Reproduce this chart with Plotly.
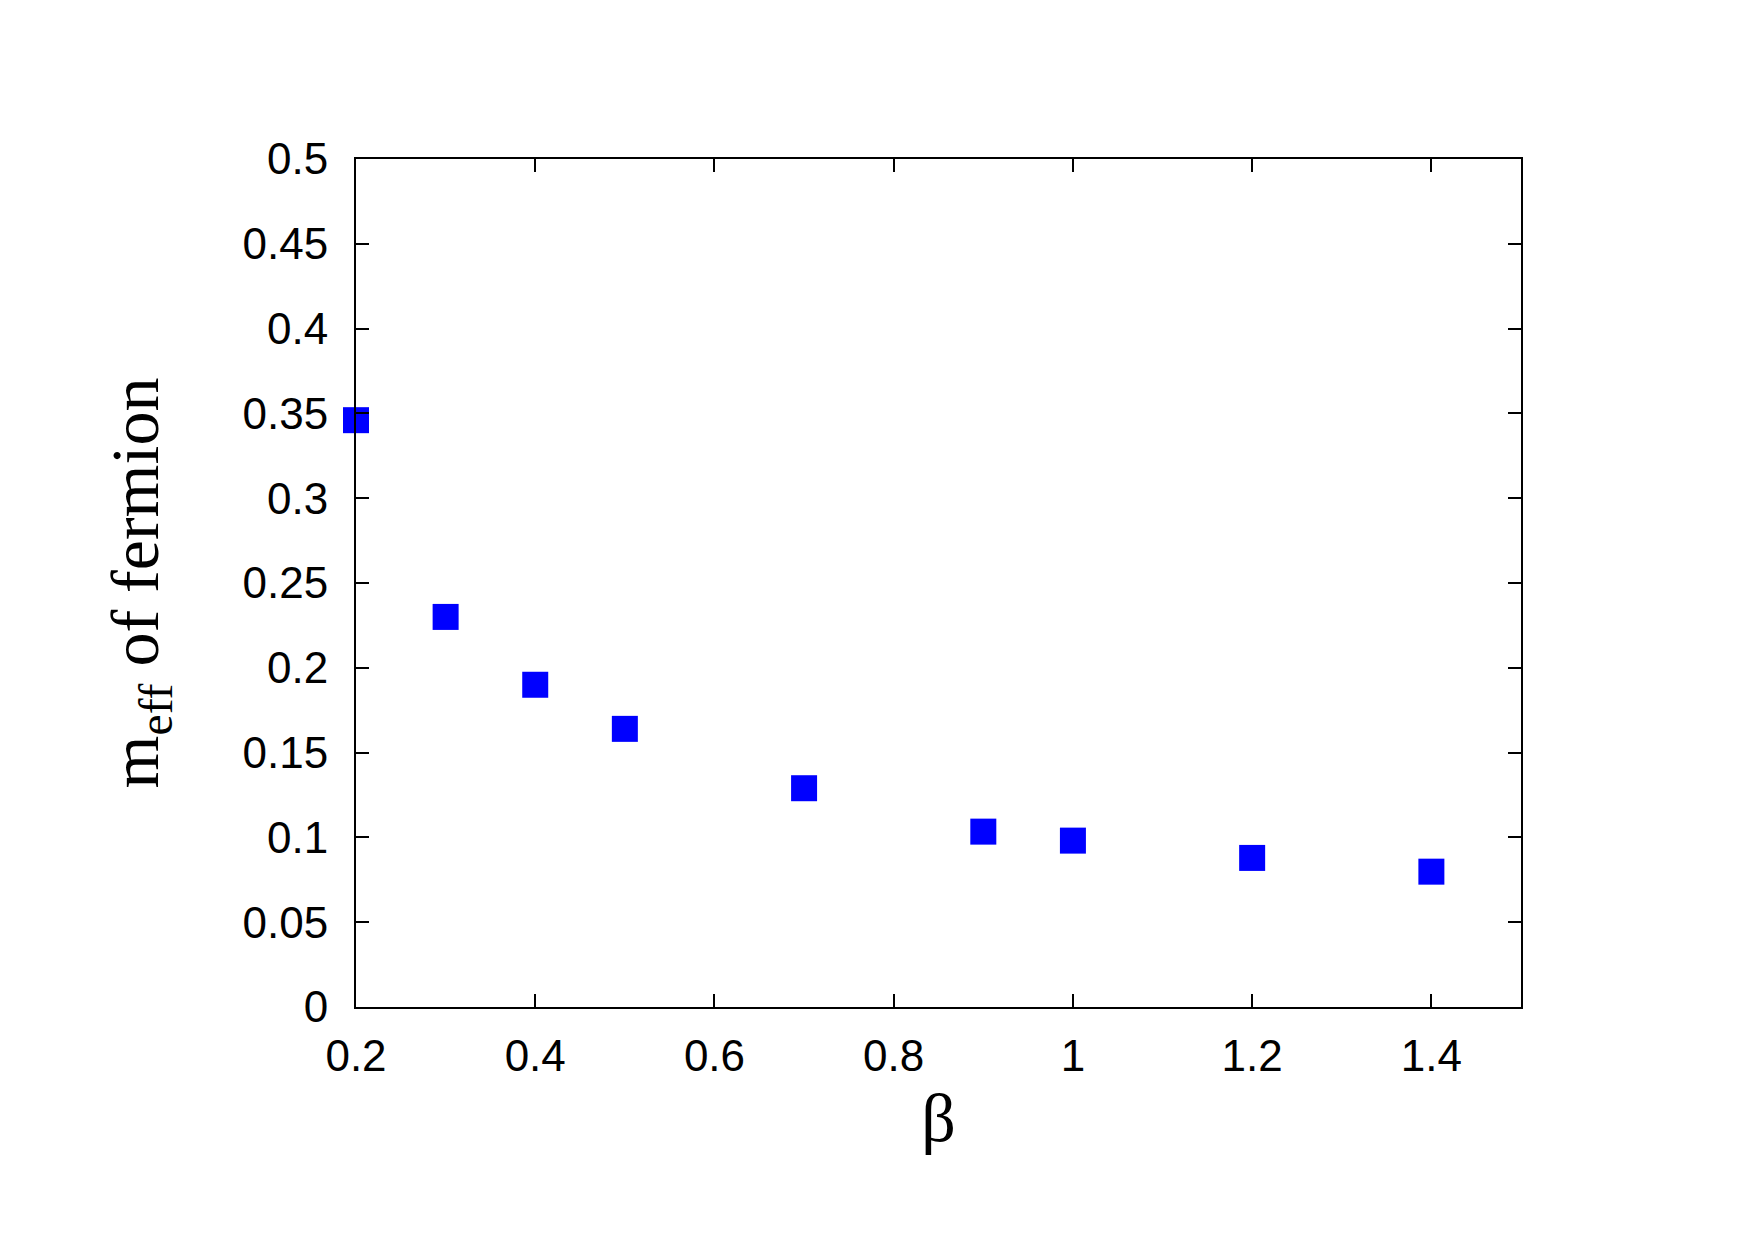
import plotly.graph_objects as go

beta = [0.2, 0.3, 0.4, 0.5, 0.7, 0.9, 1.0, 1.2, 1.4]
m_eff = [0.346, 0.230, 0.190, 0.164, 0.129, 0.1034, 0.0981, 0.0879, 0.0798]

x_ticks = [0.2, 0.4, 0.6, 0.8, 1.0, 1.2, 1.4]
x_tick_labels = ["0.2", "0.4", "0.6", "0.8", "1", "1.2", "1.4"]
y_ticks = [0, 0.05, 0.1, 0.15, 0.2, 0.25, 0.3, 0.35, 0.4, 0.45, 0.5]
y_tick_labels = ["0", "0.05", "0.1", "0.15", "0.2", "0.25", "0.3", "0.35", "0.4", "0.45", "0.5"]

fig = go.Figure()
fig.add_trace(go.Scatter(
    x=beta, y=m_eff, mode="markers",
    marker=dict(symbol="square", size=26, color="#0000ff", line=dict(width=0)),
    cliponaxis=False, showlegend=False,
))

axis_common = dict(
    showline=True, linecolor="black", linewidth=2, mirror="ticks",
    ticks="inside", ticklen=13, tickwidth=2, tickcolor="black",
    showgrid=False, zeroline=False,
    tickfont=dict(family="Liberation Sans, Arial, sans-serif", size=44, color="black"),
)

fig.update_layout(
    width=1755, height=1240,
    margin=dict(l=356, r=234, t=159, b=233),
    paper_bgcolor="white", plot_bgcolor="white",
    xaxis=dict(
        range=[0.2, 1.5], tickvals=x_ticks, ticktext=x_tick_labels,
        ticklabelstandoff=9,
        title=dict(text="β", font=dict(family="Liberation Serif, Times New Roman, serif", size=68, color="black"), standoff=14),
        **axis_common,
    ),
    yaxis=dict(
        range=[0, 0.5], tickvals=y_ticks, ticktext=y_tick_labels,
        ticklabelstandoff=17,
        title=dict(text="m<sub>eff</sub> of fermion", font=dict(family="Liberation Serif, Times New Roman, serif", size=68, color="black"), standoff=62),
        **axis_common,
    ),
)

fig.write_html("out.html")
